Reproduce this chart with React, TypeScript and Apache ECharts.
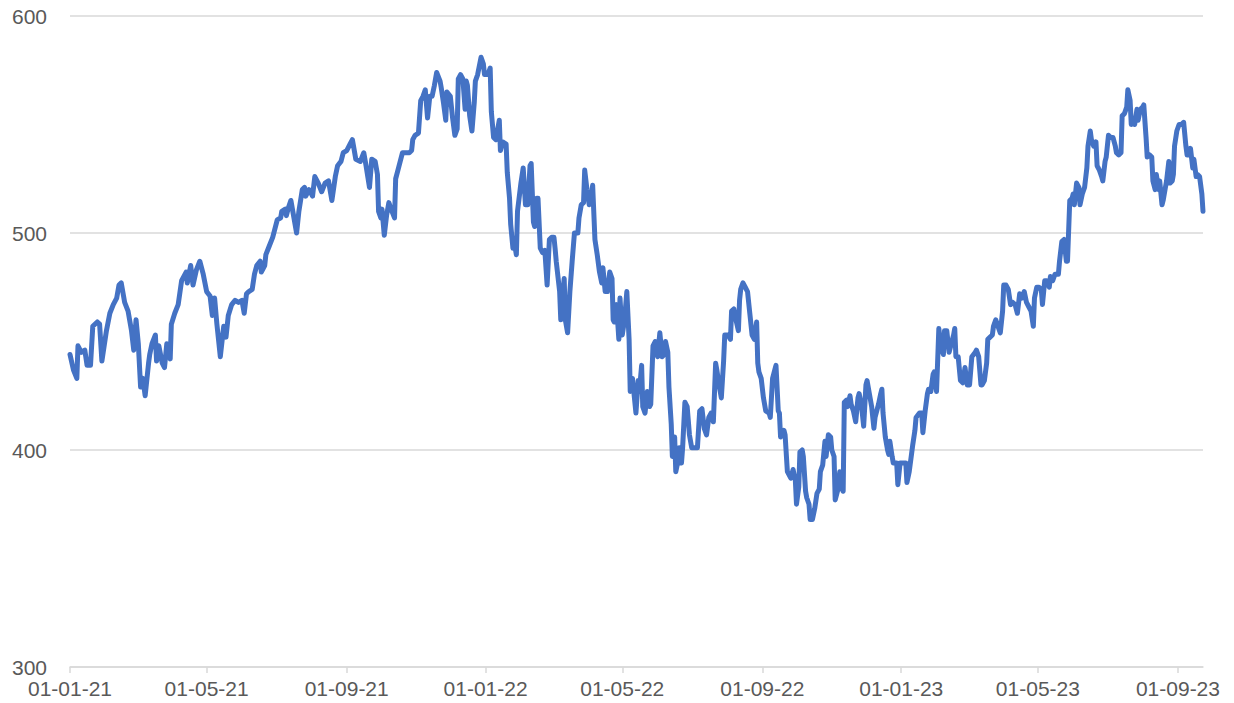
import React, { useEffect, useRef } from "react";
import * as echarts from "echarts";

const dates: string[] = [
  "2021-01-01","2021-01-04","2021-01-07","2021-01-08","2021-01-11","2021-01-14","2021-01-16","2021-01-19","2021-01-21","2021-01-25","2021-01-27","2021-01-29",
  "2021-02-02","2021-02-05","2021-02-08","2021-02-11","2021-02-13","2021-02-15","2021-02-18","2021-02-21","2021-02-24","2021-02-26","2021-02-28",
  "2021-03-02","2021-03-04","2021-03-06","2021-03-08","2021-03-11","2021-03-12","2021-03-14","2021-03-17","2021-03-18","2021-03-20","2021-03-23","2021-03-25","2021-03-27","2021-03-30","2021-03-31",
  "2021-04-03","2021-04-06","2021-04-09","2021-04-11","2021-04-13","2021-04-14","2021-04-17","2021-04-19","2021-04-22","2021-04-25","2021-04-28",
  "2021-05-01","2021-05-04","2021-05-06","2021-05-08","2021-05-10","2021-05-13","2021-05-16","2021-05-18","2021-05-20","2021-05-23","2021-05-26","2021-05-29",
  "2021-06-01","2021-06-03","2021-06-05","2021-06-07","2021-06-10","2021-06-12","2021-06-14","2021-06-17","2021-06-18","2021-06-21","2021-06-22","2021-06-25","2021-06-28","2021-06-30",
  "2021-07-02","2021-07-05","2021-07-06","2021-07-09","2021-07-10","2021-07-12","2021-07-14","2021-07-16","2021-07-19","2021-07-21","2021-07-24","2021-07-26","2021-07-27","2021-07-30",
  "2021-08-02","2021-08-04","2021-08-07","2021-08-10","2021-08-13","2021-08-16","2021-08-19","2021-08-22","2021-08-24","2021-08-27","2021-08-29",
  "2021-09-01","2021-09-04","2021-09-06","2021-09-09","2021-09-13","2021-09-16","2021-09-18","2021-09-21","2021-09-23","2021-09-26","2021-09-28","2021-09-29",
  "2021-10-01","2021-10-02","2021-10-04","2021-10-06","2021-10-08","2021-10-10","2021-10-13","2021-10-14","2021-10-16","2021-10-18","2021-10-20","2021-10-23","2021-10-26","2021-10-28","2021-10-29","2021-10-31",
  "2021-11-03","2021-11-05","2021-11-07","2021-11-09","2021-11-11","2021-11-13","2021-11-15","2021-11-17","2021-11-19","2021-11-22","2021-11-23","2021-11-25","2021-11-27","2021-11-28",
  "2021-12-01","2021-12-03","2021-12-05","2021-12-07","2021-12-08","2021-12-10","2021-12-12","2021-12-14","2021-12-15","2021-12-16","2021-12-18","2021-12-20","2021-12-22","2021-12-23","2021-12-25","2021-12-28","2021-12-30","2021-12-31",
  "2022-01-03","2022-01-05","2022-01-06","2022-01-08","2022-01-10","2022-01-13","2022-01-14","2022-01-16","2022-01-19","2022-01-20","2022-01-22","2022-01-23","2022-01-25","2022-01-27","2022-01-28","2022-01-29",
  "2022-02-01","2022-02-03","2022-02-05","2022-02-07","2022-02-09","2022-02-10","2022-02-12","2022-02-13","2022-02-15","2022-02-16","2022-02-18","2022-02-20","2022-02-22","2022-02-24","2022-02-26","2022-02-28",
  "2022-03-02","2022-03-03","2022-03-04","2022-03-07","2022-03-08","2022-03-10","2022-03-11","2022-03-12","2022-03-14","2022-03-16","2022-03-18","2022-03-20","2022-03-23","2022-03-24","2022-03-26","2022-03-28","2022-03-29","2022-03-31",
  "2022-04-02","2022-04-04","2022-04-05","2022-04-07","2022-04-09","2022-04-11","2022-04-13","2022-04-14","2022-04-16","2022-04-18","2022-04-20","2022-04-22","2022-04-23","2022-04-24","2022-04-26","2022-04-28","2022-04-29",
  "2022-05-01","2022-05-03","2022-05-05","2022-05-07","2022-05-08","2022-05-10","2022-05-13","2022-05-15","2022-05-16","2022-05-18","2022-05-19","2022-05-21","2022-05-23","2022-05-25","2022-05-26","2022-05-28","2022-05-30",
  "2022-06-01","2022-06-03","2022-06-05","2022-06-07","2022-06-08","2022-06-10","2022-06-11","2022-06-13","2022-06-14","2022-06-16","2022-06-17","2022-06-19","2022-06-20","2022-06-22","2022-06-23","2022-06-25","2022-06-27","2022-06-29",
  "2022-07-01","2022-07-03","2022-07-06","2022-07-08","2022-07-10","2022-07-12","2022-07-14","2022-07-16","2022-07-18","2022-07-20","2022-07-22","2022-07-23","2022-07-25","2022-07-27","2022-07-29","2022-07-30",
  "2022-08-02","2022-08-04","2022-08-05","2022-08-07","2022-08-08","2022-08-11","2022-08-12","2022-08-13","2022-08-15","2022-08-17","2022-08-19","2022-08-21","2022-08-23","2022-08-25","2022-08-27","2022-08-28","2022-08-29","2022-08-31",
  "2022-09-02","2022-09-04","2022-09-07","2022-09-08","2022-09-10","2022-09-12","2022-09-13","2022-09-15","2022-09-16","2022-09-17","2022-09-20","2022-09-21","2022-09-23","2022-09-26","2022-09-28","2022-09-30",
  "2022-10-01","2022-10-03","2022-10-04","2022-10-06","2022-10-07","2022-10-09","2022-10-10","2022-10-12","2022-10-13","2022-10-15","2022-10-17","2022-10-19","2022-10-21","2022-10-22","2022-10-24","2022-10-26","2022-10-27","2022-10-29","2022-10-31",
  "2022-11-01","2022-11-03","2022-11-04","2022-11-06","2022-11-08","2022-11-09","2022-11-11","2022-11-12","2022-11-14","2022-11-15","2022-11-17","2022-11-18","2022-11-20","2022-11-22","2022-11-24","2022-11-25","2022-11-27","2022-11-29",
  "2022-12-01","2022-12-02","2022-12-04","2022-12-06","2022-12-08","2022-12-09","2022-12-12","2022-12-14","2022-12-15","2022-12-16","2022-12-18","2022-12-20","2022-12-21","2022-12-22","2022-12-24","2022-12-25","2022-12-28","2022-12-29","2022-12-31",
  "2023-01-01","2023-01-03","2023-01-05","2023-01-06","2023-01-08","2023-01-10","2023-01-11","2023-01-13","2023-01-14","2023-01-17","2023-01-19","2023-01-20","2023-01-22","2023-01-24","2023-01-25","2023-01-27","2023-01-29","2023-01-30",
  "2023-02-01","2023-02-03","2023-02-05","2023-02-07","2023-02-08","2023-02-10","2023-02-12","2023-02-14","2023-02-16","2023-02-17","2023-02-18","2023-02-20","2023-02-22","2023-02-24","2023-02-26","2023-02-28",
  "2023-03-02","2023-03-04","2023-03-07","2023-03-08","2023-03-10","2023-03-12","2023-03-13","2023-03-15","2023-03-17","2023-03-18","2023-03-20","2023-03-22","2023-03-23","2023-03-25","2023-03-27","2023-03-29","2023-03-31",
  "2023-04-01","2023-04-03","2023-04-05","2023-04-07","2023-04-09","2023-04-11","2023-04-13","2023-04-15","2023-04-17","2023-04-19","2023-04-21","2023-04-23","2023-04-25","2023-04-27","2023-04-28","2023-04-30",
  "2023-05-02","2023-05-04","2023-05-05","2023-05-07","2023-05-09","2023-05-11","2023-05-12","2023-05-14","2023-05-16","2023-05-19","2023-05-20","2023-05-22","2023-05-24","2023-05-26","2023-05-27","2023-05-29","2023-05-31",
  "2023-06-01","2023-06-02","2023-06-04","2023-06-06","2023-06-07","2023-06-09","2023-06-11","2023-06-13","2023-06-14","2023-06-16","2023-06-17","2023-06-19","2023-06-21","2023-06-22","2023-06-24","2023-06-26","2023-06-27","2023-06-29","2023-06-30",
  "2023-07-02","2023-07-04","2023-07-06","2023-07-08","2023-07-09","2023-07-11","2023-07-13","2023-07-14","2023-07-16","2023-07-18","2023-07-19","2023-07-21","2023-07-22","2023-07-24","2023-07-25","2023-07-27","2023-07-28","2023-07-30",
  "2023-08-01","2023-08-02","2023-08-04","2023-08-05","2023-08-07","2023-08-09","2023-08-10","2023-08-12","2023-08-13","2023-08-15","2023-08-16","2023-08-18","2023-08-19","2023-08-21","2023-08-22","2023-08-24","2023-08-25","2023-08-27","2023-08-28","2023-08-29","2023-08-31",
  "2023-09-02","2023-09-04","2023-09-06","2023-09-08","2023-09-09","2023-09-11","2023-09-12","2023-09-14","2023-09-15","2023-09-17","2023-09-18","2023-09-20","2023-09-22","2023-09-23"
];

const values: number[] = [
  444,437,433,448,445,446,439,439,457,459,458,441,
  455,463,467,470,476,477,468,464,455,446,460,
  449,429,433,425,440,444,449,453,441,448,440,438,449,442,458,
  463,467,478,480,482,477,485,476,483,487,481,
  473,471,462,470,458,443,457,452,462,467,469,468,
  469,463,472,473,474,481,485,487,482,485,490,494,498,502,
  506,507,510,511,508,512,515,509,500,510,520,521,517,520,
  517,526,523,519,523,524,515,526,531,533,537,
  538,541,543,534,533,537,531,521,534,533,527,510,
  507,511,499,508,514,511,507,525,529,533,537,537,537,538,543,545,
  546,561,563,566,553,563,563,568,574,570,567,560,552,565,
  563,553,545,548,571,573,571,557,570,568,554,547,560,570,573,581,578,573,
  573,576,556,544,543,552,538,542,541,528,516,504,493,493,490,510,
  523,530,513,513,531,532,505,503,516,516,493,491,492,476,497,498,
  498,493,487,473,460,473,479,460,454,473,487,500,500,507,513,514,529,520,
  513,518,522,497,490,482,477,484,473,473,482,479,460,459,467,451,470,
  453,460,473,451,427,433,417,432,427,439,420,417,427,420,421,448,450,
  443,454,443,444,450,445,429,412,397,406,390,395,401,394,401,422,420,407,
  401,401,401,418,419,410,407,415,417,413,440,437,430,424,441,453,
  453,451,464,465,462,455,469,474,477,475,473,463,453,451,459,440,436,433,
  424,418,417,415,433,437,439,418,417,406,409,407,390,387,391,386,
  375,383,399,400,397,381,378,375,368,368,373,380,382,390,393,404,397,407,406,
  400,397,377,381,390,383,381,422,423,420,425,421,418,413,424,426,421,411,
  430,432,426,420,410,415,421,426,428,417,406,400,398,404,397,394,394,384,394,
  394,394,394,385,390,398,402,409,415,417,417,408,418,426,428,427,435,436,
  427,456,447,444,455,455,445,449,453,456,443,443,432,431,438,430,
  430,443,445,446,443,430,430,432,440,451,452,453,457,460,457,454,464,
  476,476,474,467,468,467,463,472,470,473,468,466,464,457,470,475,
  475,474,467,478,478,475,480,478,481,481,487,496,497,487,487,515,516,
  518,513,523,521,513,518,521,530,540,547,543,540,542,531,529,526,524,533,535,
  545,544,544,540,537,536,537,554,555,558,566,561,550,553,550,557,552,557,
  558,559,544,535,536,535,524,520,527,520,524,513,515,521,524,533,523,524,527,540,547,
  550,550,551,540,536,536,539,530,534,526,527,526,518,510
];

const tickDates: string[] = [
  "2021-01-01","2021-05-01","2021-09-01","2022-01-01","2022-05-01",
  "2022-09-01","2023-01-01","2023-05-01","2023-09-01"
];
const tickLabels: string[] = [
  "01-01-21","01-05-21","01-09-21","01-01-22","01-05-22",
  "01-09-22","01-01-23","01-05-23","01-09-23"
];
const yTicks: number[] = [300, 400, 500, 600];

function toTime(s: string): number {
  const [y, m, d] = s.split("-").map(Number);
  return new Date(y, m - 1, d).getTime();
}

export default function App() {
  const ref = useRef<HTMLDivElement>(null);

  useEffect(() => {
    document.body.style.margin = "0";
    const el = ref.current;
    if (!el) return;
    const chart = echarts.init(el, undefined, { renderer: "svg" });
    const tickTimes = tickDates.map(toTime);
    const data = dates.map((d, i) => [toTime(d), values[i]]);
    const gridColor = "#d9d9d9";
    const textColor = "#595959";
    const font = "Liberation Sans, Arial, sans-serif";

    chart.setOption({
      animation: false,
      backgroundColor: "#ffffff",
      grid: {
        left: 70,
        right: 31,
        top: 16,
        bottom: 36,
        containLabel: false,
        outerBoundsMode: "none",
      },
      xAxis: {
        type: "value",
        min: toTime(dates[0]),
        max: toTime(dates[dates.length - 1]),
        scale: true,
        axisLine: { show: true, onZero: false, lineStyle: { color: gridColor, width: 1.5 } },
        axisTick: {
          show: true,
          customValues: tickTimes,
          length: 6,
          lineStyle: { color: gridColor, width: 1.5 },
        },
        axisLabel: {
          customValues: tickTimes,
          color: textColor,
          fontSize: 21,
          fontFamily: font,
          margin: 11,
          showMinLabel: true,
          showMaxLabel: true,
          formatter: (v: number) => {
            for (let i = 0; i < tickTimes.length; i++) {
              if (Math.abs(tickTimes[i] - v) < 43200000) return tickLabels[i];
            }
            return "";
          },
        },
        splitLine: { show: false },
      },
      yAxis: {
        type: "value",
        min: yTicks[0],
        max: yTicks[yTicks.length - 1],
        interval: yTicks[1] - yTicks[0],
        axisLine: { show: false },
        axisTick: { show: false },
        axisLabel: {
          color: textColor,
          fontSize: 21,
          fontFamily: font,
          margin: 23,
        },
        splitLine: { show: true, lineStyle: { color: gridColor, width: 1.5 } },
      },
      series: [
        {
          type: "line",
          data,
          showSymbol: false,
          symbol: "none",
          smooth: false,
          lineStyle: { color: "#4472C4", width: 5, join: "round", cap: "round" },
          itemStyle: { color: "#4472C4" },
        },
      ],
    });

    return () => chart.dispose();
  }, []);

  return (
    <div
      ref={ref}
      style={{ position: "fixed", left: 0, top: 0, width: 1234, height: 703 }}
    />
  );
}
